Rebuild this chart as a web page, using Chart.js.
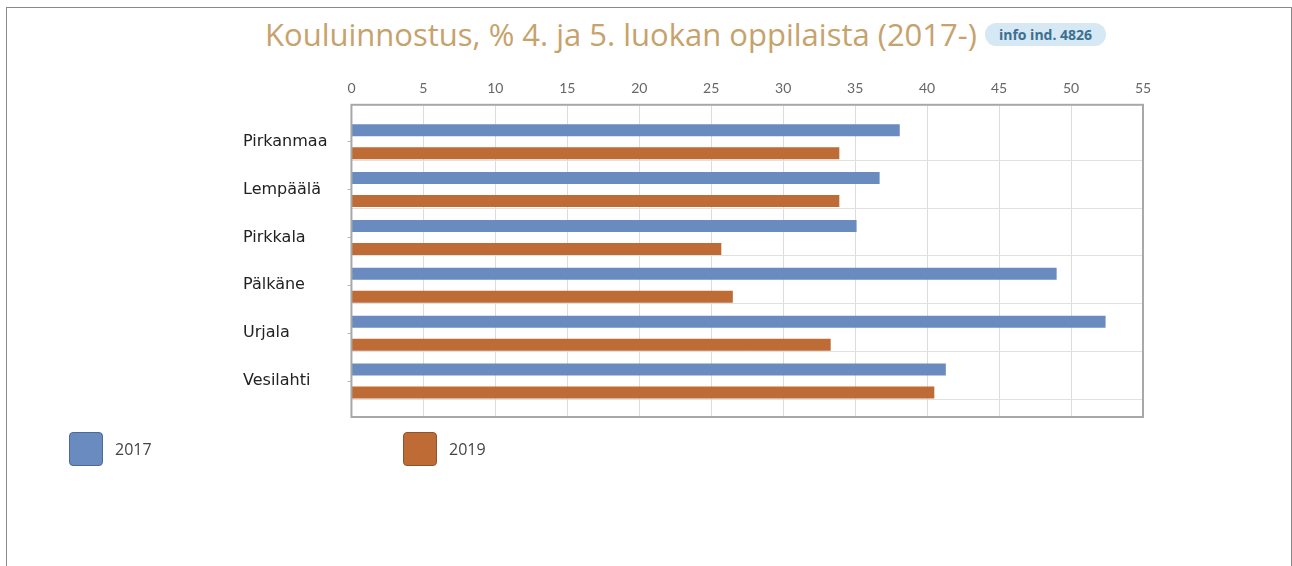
<!DOCTYPE html>
<html>
<head>
<meta charset="utf-8">
<script src="https://cdn.jsdelivr.net/npm/chart.js@4.4.1/dist/chart.umd.min.js"></script>
<style>
  html, body { margin: 0; padding: 0; background: #fff; }
  body { width: 1292px; height: 566px; position: relative; overflow: hidden; }
  #frame {
    position: absolute; left: 6px; top: 7px; width: 1284px; height: 600px;
    border: 1px solid #8a8a8a; border-bottom: none;
  }
  #title {
    position: absolute; left: 265px; top: 13px; white-space: nowrap;
    font-family: "Open Sans", sans-serif; font-size: 31px; color: #c6a26c;
  }
  #title .badge {
    display: inline-block; vertical-align: 6px; margin-left: 8px;
    background: #d5e8f4; color: #3c6f90; border-radius: 12px;
    font-family: "Open Sans", sans-serif; font-weight: 700; font-size: 14px;
    padding: 2px 14px;
  }
  #chart { position: absolute; left: 0; top: 0; }
  #legend { position: absolute; left: 69px; top: 432px; display: flex; }
  .item { display: flex; align-items: center; width: 334px; }
  .swatch { width: 32px; height: 32px; border-radius: 4px; border: 1px solid; margin-right: 12px; }
  .item span { font-family: "Open Sans", sans-serif; font-size: 16px; color: #444; }
</style>
</head>
<body>
<div id="frame"></div>
<div id="title">Kouluinnostus, % 4. ja 5. luokan oppilaista (2017-)<span class="badge">info ind. 4826</span></div>
<canvas id="chart" width="1292" height="566"></canvas>
<div id="legend"></div>
<script>
const categories = ["Pirkanmaa", "Lempäälä", "Pirkkala", "Pälkäne", "Urjala", "Vesilahti"];
const values2017 = [38.1, 36.7, 35.1, 49.0, 52.4, 41.3];
const values2019 = [33.9, 33.9, 25.7, 26.5, 33.3, 40.5];
const seriesLabels = ["2017", "2019"];
const xMin = 0, xMax = 55, xStep = 5;

const colors = ["#6a8bbf", "#bf6b35"];
const borders = ["#4e6994", "#8c5532"];

// horizontal grid lines sit between categories, a bit below each bar pair
const rowGrid = {
  id: "rowGrid",
  beforeDatasetsDraw(chart) {
    const { ctx, chartArea, scales } = chart;
    ctx.save();
    ctx.strokeStyle = "#e0e0e0";
    ctx.lineWidth = 1;
    categories.forEach((c, i) => {
      const y = Math.round(scales.y.getPixelForValue(i + 0.375)) + 0.5;
      ctx.beginPath();
      ctx.moveTo(chartArea.left, y);
      ctx.lineTo(chartArea.right, y);
      ctx.stroke();
    });
    ctx.restore();
  },
  afterDraw(chart) {
    const { ctx, chartArea } = chart;
    ctx.save();
    ctx.strokeStyle = "#a8a8a8";
    ctx.lineWidth = 2;
    ctx.strokeRect(chartArea.left, chartArea.top, chartArea.right - chartArea.left, chartArea.bottom - chartArea.top);
    ctx.restore();
  },
};

const toPoints = (vals) => vals.map((v, i) => ({ x: v, y: i }));

const chart = new Chart(document.getElementById("chart"), {
  type: "bar",
  data: {
    datasets: [
      { label: seriesLabels[0], data: toPoints(values2017), backgroundColor: colors[0] },
      { label: seriesLabels[1], data: toPoints(values2019), backgroundColor: colors[1] },
    ],
  },
  options: {
    indexAxis: "y",
    responsive: false,
    animation: false,
    categoryPercentage: 0.96,
    barPercentage: 0.52,
    layout: { padding: { left: 243, top: 72, right: 149, bottom: 149 } },
    plugins: { legend: { display: false }, tooltip: { enabled: false } },
    scales: {
      x: {
        type: "linear",
        position: "top",
        min: xMin,
        max: xMax,
        ticks: { stepSize: xStep, color: "#666", padding: 8, font: { family: "Lato", size: 14 } },
        grid: { color: "#dcdcdc", drawTicks: false },
        border: { display: false },
      },
      y: {
        type: "linear",
        reverse: true,
        offset: false,
        min: -0.77,
        max: 5.75,
        afterBuildTicks: (axis) => { axis.ticks = categories.map((c, i) => ({ value: i })); },
        ticks: {
          autoSkip: false,
          crossAlign: "far",
          color: "#222",
          padding: 10,
          font: { family: "DejaVu Sans", size: 16 },
          callback: (v) => categories[v],
        },
        grid: { offset: false, drawOnChartArea: false, tickLength: 4, color: "#bbb" },
        border: { display: false },
      },
    },
  },
  plugins: [rowGrid],
});

// legend built from the chart's datasets
const legend = document.getElementById("legend");
chart.data.datasets.forEach((ds, i) => {
  const item = document.createElement("div");
  item.className = "item";
  item.innerHTML = '<div class="swatch" style="background:' + ds.backgroundColor + ';border-color:' + borders[i] + '"></div><span>' + ds.label + "</span>";
  legend.appendChild(item);
});
</script>
</body>
</html>
